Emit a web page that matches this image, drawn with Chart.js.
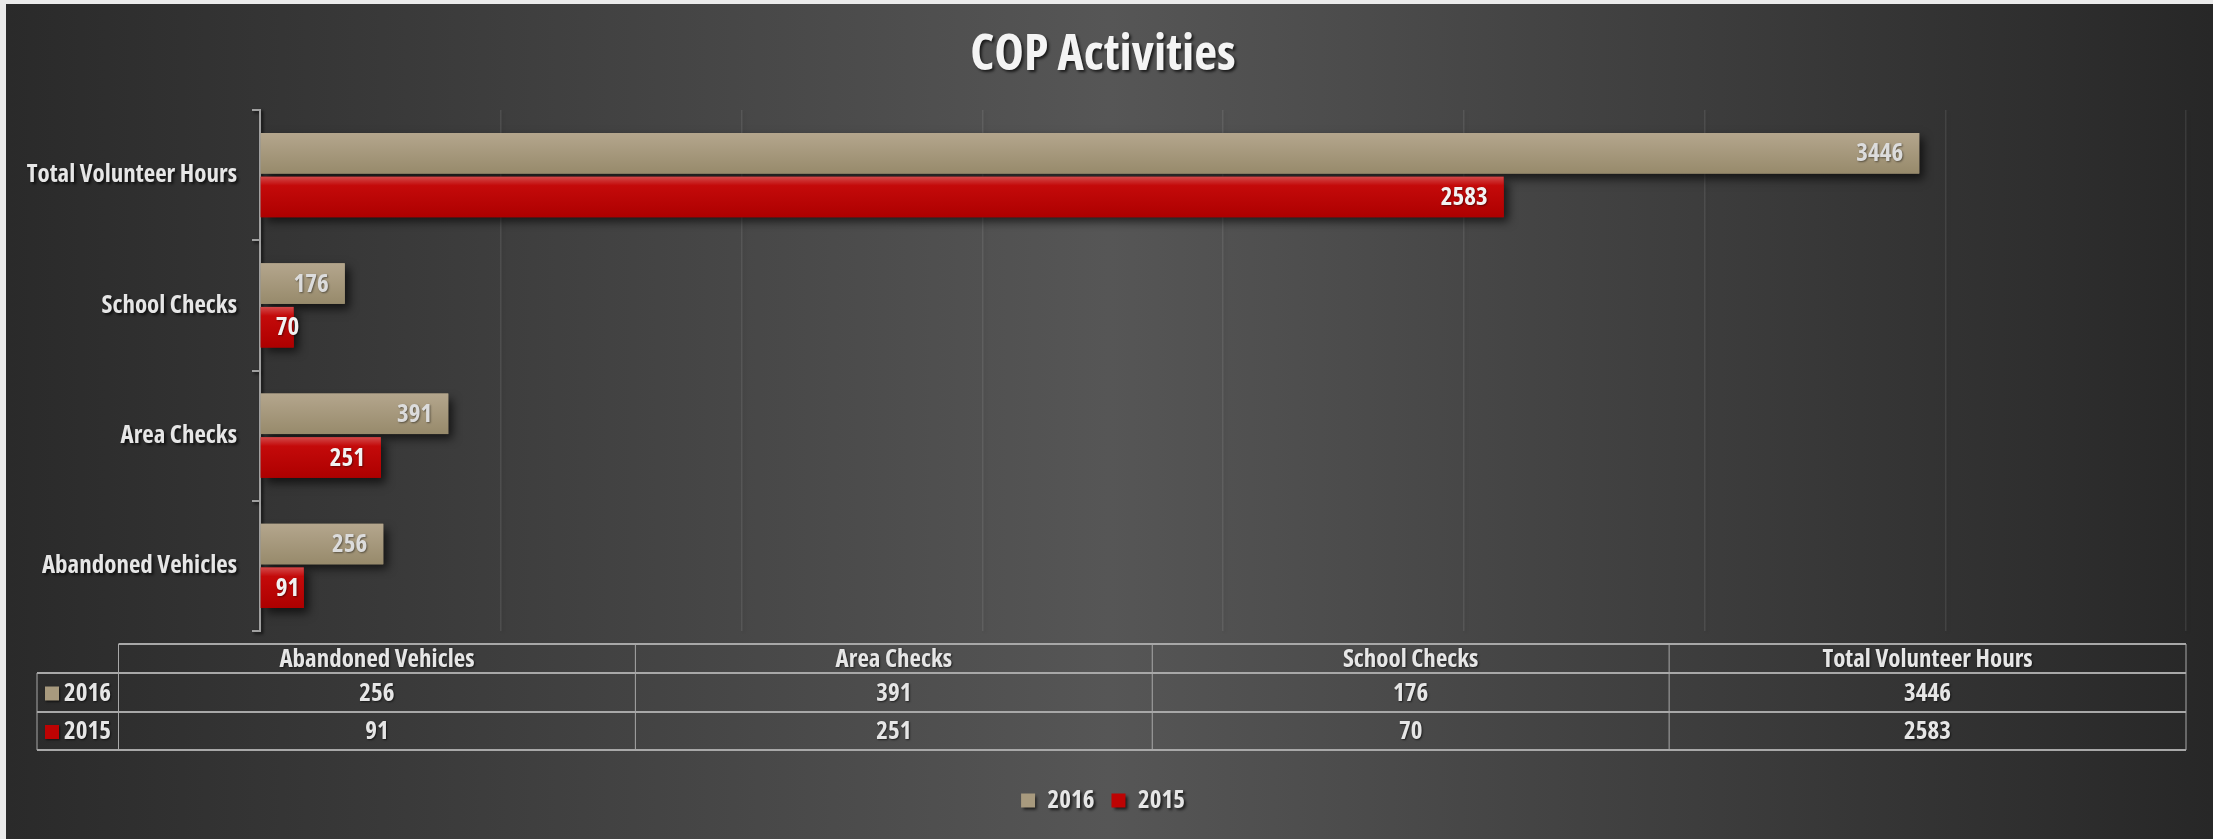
<!DOCTYPE html>
<html>
<head>
<meta charset="utf-8">
<title>COP Activities</title>
<script src="https://cdn.jsdelivr.net/npm/chart.js@4.4.1/dist/chart.umd.min.js"></script>
<style>
  html, body { margin: 0; padding: 0; background: #ebebeb; overflow: hidden; }
  #wrap { position: absolute; left: 6px; top: 4px; width: 2207px; height: 835px; }
</style>
</head>
<body>
<div id="wrap"><canvas id="copChart"></canvas></div>
<script>
// Data (table order: bottom bar group first)
const categories = ['Abandoned Vehicles', 'Area Checks', 'School Checks', 'Total Volunteer Hours'];
const seriesNames = ['2016', '2015'];
const values2016 = [256, 391, 176, 3446];
const values2015 = [91, 251, 70, 2583];
const xMax = 4000;
const xStep = 500;

const TEXT = '#e6e6e6';
const seriesColors = ['#a89a7e', '#bd0303'];

// the original uses Impact; pick the narrow face that comes closest to its width
const ctx = document.getElementById('copChart').getContext('2d');
const fontOptions = [
  ['extra-condensed', "'Noto Sans'"],
  ['condensed', "'Noto Sans'"],
  ['condensed', "'Open Sans'"],
  ['normal', "'Liberation Sans Narrow'"],
  ['condensed', "'DejaVu Sans'"]
];
let pick = fontOptions[fontOptions.length - 1], bestDiff = Infinity;
fontOptions.forEach(([stretch, fam]) => {
  ctx.font = '10px serif';
  const before = ctx.font;
  ctx.font = 'bold ' + stretch + ' 24px ' + fam + ', sans-serif';
  if (ctx.font === before) return;
  const w = ctx.measureText('Total Volunteer Hours').width;
  const d = Math.abs(w - 212);
  if (d < bestDiff) { bestDiff = d; pick = [stretch, fam]; }
});
const WEIGHT = 'bold ' + pick[0];
const FAMILY = pick[1] + ', sans-serif';
const fontStr = size => WEIGHT + ' ' + size + 'px ' + FAMILY;

function fitSize(text, maxSize, target) {
  ctx.font = fontStr(maxSize);
  const w = ctx.measureText(text).width;
  return Math.min(maxSize, Math.floor(maxSize * target / w * 10) / 10);
}
const labelSize = fitSize('Total Volunteer Hours', 25, 212);
const titleSize = fitSize('COP Activities', 50, 277);

Chart.defaults.font.family = FAMILY;
Chart.defaults.font.weight = WEIGHT;

// background: dark at the sides, lighter in the middle; soft text shadow for axis/title/legend
const bgPlugin = {
  id: 'bg',
  beforeDraw(chart) {
    const { ctx, width, height } = chart;
    const g = ctx.createLinearGradient(0, 0, width, 0);
    g.addColorStop(0, '#2a2a2a');
    g.addColorStop(0.5, '#565656');
    g.addColorStop(1, '#272727');
    ctx.save();
    ctx.fillStyle = g;
    ctx.fillRect(0, 0, width, height);
    ctx.shadowColor = 'rgba(0,0,0,0.7)';
    ctx.shadowBlur = 3;
    ctx.shadowOffsetX = 2;
    ctx.shadowOffsetY = 2;
  }
};

// shadow + glossy gradient on the bars, value labels at the bar end
const barStyle = {
  id: 'barStyle',
  beforeDatasetsDraw(chart) {
    const ctx = chart.ctx;
    ctx.restore();
    ctx.save();
    ctx.shadowColor = 'rgba(0,0,0,0.65)';
    ctx.shadowBlur = 9;
    ctx.shadowOffsetX = 5;
    ctx.shadowOffsetY = 5;
  },
  afterDatasetsDraw(chart) {
    const ctx = chart.ctx;
    ctx.restore();
    chart.data.datasets.forEach((ds, i) => {
      const meta = chart.getDatasetMeta(i);
      meta.data.forEach((bar, j) => {
        const p = bar.getProps(['x', 'y', 'base', 'height']);
        const top = p.y - p.height / 2;
        const g = ctx.createLinearGradient(0, top, 0, top + p.height);
        if (i === 0) {
          g.addColorStop(0, '#b4a68d');
          g.addColorStop(1, '#978a6b');
        } else {
          g.addColorStop(0, '#d24a4a');
          g.addColorStop(0.22, '#c40a0a');
          g.addColorStop(1, '#ad0000');
        }
        ctx.save();
        ctx.fillStyle = g;
        ctx.fillRect(p.base, top, p.x - p.base, p.height);
        const txt = String(ds.data[j]);
        ctx.font = fontStr(labelSize);
        const tw = ctx.measureText(txt).width;
        ctx.fillStyle = i === 0 ? '#dcdcdc' : '#f2f2f2';
        ctx.textAlign = 'right';
        ctx.textBaseline = 'middle';
        ctx.shadowColor = 'rgba(0,0,0,0.45)';
        ctx.shadowBlur = 2;
        ctx.shadowOffsetX = 1;
        ctx.shadowOffsetY = 1;
        ctx.fillText(txt, Math.max(p.x - 16, p.base + 15 + tw), p.y + 1);
        ctx.restore();
      });
    });
  }
};

// Excel style data table under the plot
const dataTable = {
  id: 'dataTable',
  afterDraw(chart) {
    const { ctx, chartArea } = chart;
    const top = chartArea.bottom + 13;
    const rows = [top, top + 29, top + 68, top + 106];
    const left = 31, colLeft = 112.5, right = chartArea.right;
    const colW = (right - colLeft) / categories.length;
    const series = [values2016, values2015];

    ctx.save();
    ctx.strokeStyle = '#a8a8a8';
    ctx.lineWidth = 2;
    ctx.beginPath();
    ctx.moveTo(colLeft, rows[0]); ctx.lineTo(right, rows[0]);
    for (let r = 1; r < rows.length; r++) {
      ctx.moveTo(left, rows[r]); ctx.lineTo(right, rows[r]);
    }
    ctx.stroke();
    ctx.lineWidth = 1;
    ctx.beginPath();
    ctx.moveTo(left, rows[1]); ctx.lineTo(left, rows[3]);
    for (let c = 0; c <= categories.length; c++) {
      const x = colLeft + c * colW;
      ctx.moveTo(x, rows[0]); ctx.lineTo(x, rows[3]);
    }
    ctx.stroke();

    ctx.font = fontStr(labelSize);
    ctx.fillStyle = TEXT;
    ctx.textAlign = 'center';
    ctx.textBaseline = 'middle';
    ctx.shadowColor = 'rgba(0,0,0,0.6)';
    ctx.shadowBlur = 2;
    ctx.shadowOffsetX = 1;
    ctx.shadowOffsetY = 1;
    categories.forEach((name, c) => {
      ctx.fillText(name, colLeft + (c + 0.5) * colW, (rows[0] + rows[1]) / 2 + 1);
    });
    series.forEach((vals, s) => {
      const cy = (rows[s + 1] + rows[s + 2]) / 2 + 1;
      vals.forEach((v, c) => {
        ctx.fillText(String(v), colLeft + (c + 0.5) * colW, cy);
      });
      ctx.fillStyle = seriesColors[s];
      ctx.fillRect(left + 8, cy - 7, 14, 14);
      ctx.fillStyle = TEXT;
      ctx.textAlign = 'left';
      ctx.fillText(seriesNames[s], left + 27, cy);
      ctx.textAlign = 'center';
    });
    ctx.restore();
  }
};

const padLeft = 14;
const titleH = titleSize * 1.2;
const titleMid = 52;
const copChart = new Chart(ctx, {
  type: 'bar',
  data: {
    labels: categories,
    datasets: [
      { label: seriesNames[0], data: values2016, backgroundColor: seriesColors[0] },
      { label: seriesNames[1], data: values2015, backgroundColor: seriesColors[1] }
    ]
  },
  options: {
    indexAxis: 'y',
    responsive: true,
    maintainAspectRatio: false,
    animation: false,
    layout: { padding: { left: padLeft, right: 27, top: 0, bottom: 16 } },
    datasets: { bar: { categoryPercentage: 0.67, barPercentage: 0.93 } },
    scales: {
      x: {
        min: 0,
        max: xMax,
        ticks: { display: false, stepSize: xStep },
        grid: { color: 'rgba(255,255,255,0.09)', lineWidth: 1.5, drawTicks: false },
        border: { display: false },
        afterFit: s => { s.height = 140; }
      },
      y: {
        reverse: true,
        ticks: { color: TEXT, font: { size: labelSize }, padding: 15 },
        grid: { drawOnChartArea: false, color: '#a0a0a0', tickLength: 8, lineWidth: 2 },
        border: { color: '#a0a0a0', width: 2 },
        afterFit: s => { s.width = 254 - padLeft; }
      }
    },
    plugins: {
      title: {
        display: true,
        text: 'COP Activities',
        color: '#f4f4f4',
        font: { size: titleSize, weight: WEIGHT },
        padding: { top: titleMid - titleH / 2, bottom: 106 - titleMid - titleH / 2 }
      },
      legend: {
        position: 'bottom',
        labels: { color: TEXT, boxWidth: 14, boxHeight: 14, padding: 17, font: { size: labelSize } }
      },
      tooltip: { enabled: false }
    }
  },
  plugins: [bgPlugin, barStyle, dataTable]
});
</script>
</body>
</html>
